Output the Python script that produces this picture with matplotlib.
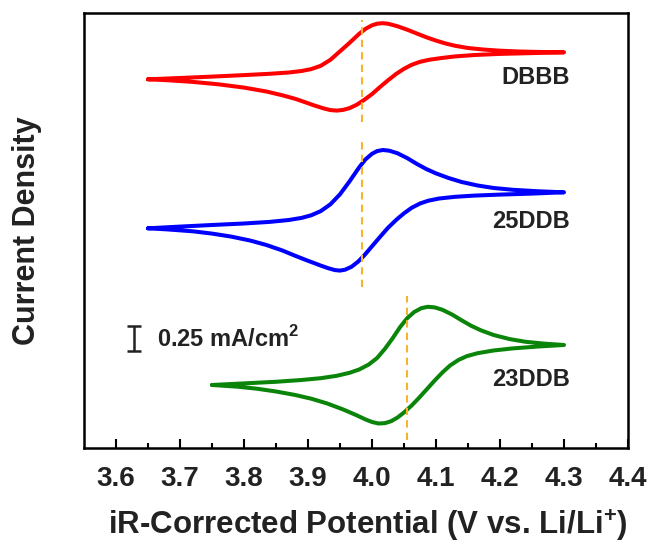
import numpy as np
import matplotlib
matplotlib.use("Agg")
import matplotlib.pyplot as plt

plt.rcParams['font.family'] = ['Liberation Sans', 'DejaVu Sans']
plt.rcParams['font.weight'] = 'bold'
plt.rcParams['mathtext.fontset'] = 'custom'
plt.rcParams['mathtext.rm'] = 'Liberation Sans:bold'
plt.rcParams['mathtext.bf'] = 'Liberation Sans:bold'

# CV curves: potential (V vs Li/Li+) and current density (mA/cm2), forward then reverse scan
dbbb_v = [3.65, 3.70, 3.75, 3.80, 3.84, 3.87, 3.89, 3.905, 3.92, 3.935, 3.95, 3.965, 3.98,
          3.99, 4.000, 4.008, 4.016, 4.025, 4.040, 4.055, 4.070, 4.085, 4.100, 4.115, 4.130,
          4.150, 4.175, 4.200, 4.230, 4.265, 4.30,
          4.25, 4.20, 4.16, 4.13, 4.11, 4.09, 4.075, 4.062, 4.050, 4.038, 4.025, 4.012, 4.000,
          3.988, 3.976, 3.965, 3.955, 3.945, 3.935, 3.925, 3.91, 3.895, 3.88, 3.86, 3.835,
          3.80, 3.76, 3.72, 3.68, 3.65]
dbbb_j = [0.0, 0.013, 0.027, 0.042, 0.055, 0.068, 0.083, 0.102, 0.135, 0.195, 0.280, 0.365,
          0.455, 0.505, 0.540, 0.556, 0.561, 0.556, 0.530, 0.496, 0.458, 0.420, 0.387, 0.358,
          0.335, 0.313, 0.297, 0.286, 0.278, 0.273, 0.270,
          0.262, 0.254, 0.243, 0.229, 0.214, 0.196, 0.175, 0.145, 0.105, 0.055, -0.010, -0.080,
          -0.148, -0.205, -0.255, -0.288, -0.306, -0.313, -0.308, -0.292, -0.262, -0.228,
          -0.195, -0.160, -0.122, -0.083, -0.050, -0.026, -0.009, 0.0]

ddb25_v = [3.65, 3.70, 3.75, 3.80, 3.84, 3.87, 3.89, 3.905, 3.92, 3.935, 3.95, 3.965, 3.98,
           3.99, 4.000, 4.008, 4.017, 4.027, 4.040, 4.055, 4.070, 4.085, 4.100, 4.120, 4.140,
           4.165, 4.19, 4.22, 4.26, 4.30,
           4.25, 4.20, 4.16, 4.13, 4.105, 4.088, 4.075, 4.062, 4.050, 4.038, 4.025, 4.012,
           4.000, 3.988, 3.978, 3.968, 3.958, 3.950, 3.942, 3.932, 3.92, 3.90, 3.88, 3.86,
           3.835, 3.81, 3.78, 3.75, 3.72, 3.68, 3.65]
ddb25_j = [0.0, 0.017, 0.033, 0.048, 0.064, 0.083, 0.104, 0.130, 0.172, 0.240, 0.340, 0.470,
           0.610, 0.690, 0.745, 0.772, 0.783, 0.776, 0.750, 0.702, 0.644, 0.592, 0.549, 0.502,
           0.463, 0.428, 0.403, 0.385, 0.370, 0.360,
           0.347, 0.337, 0.327, 0.315, 0.298, 0.276, 0.248, 0.205, 0.150, 0.085, 0.005, -0.090,
           -0.180, -0.270, -0.335, -0.385, -0.414, -0.423, -0.418, -0.400, -0.373, -0.325,
           -0.275, -0.222, -0.167, -0.123, -0.083, -0.053, -0.030, -0.011, 0.0]

ddb23_v = [3.75, 3.80, 3.85, 3.89, 3.92, 3.945, 3.965, 3.98, 3.995, 4.008, 4.020, 4.032,
           4.044, 4.055, 4.066, 4.077, 4.087, 4.098, 4.110, 4.125, 4.140, 4.155, 4.17, 4.19,
           4.215, 4.24, 4.27, 4.30,
           4.26, 4.22, 4.19, 4.165, 4.148, 4.135, 4.122, 4.110, 4.098, 4.086, 4.074, 4.062,
           4.050, 4.040, 4.030, 4.020, 4.010, 4.000, 3.99, 3.975, 3.955, 3.93, 3.905, 3.88,
           3.85, 3.82, 3.79, 3.75]
ddb23_j = [0.0, 0.016, 0.032, 0.050, 0.068, 0.092, 0.122, 0.155, 0.205, 0.270, 0.360, 0.465,
           0.580, 0.668, 0.730, 0.768, 0.782, 0.776, 0.752, 0.705, 0.647, 0.592, 0.547, 0.500,
           0.459, 0.432, 0.413, 0.400,
           0.385, 0.366, 0.345, 0.318, 0.288, 0.250, 0.195, 0.125, 0.045, -0.040, -0.125,
           -0.205, -0.275, -0.325, -0.362, -0.382, -0.385, -0.370, -0.345, -0.300, -0.245,
           -0.185, -0.137, -0.100, -0.065, -0.037, -0.017, 0.0]

names = ['DBBB', '25DDB', '23DDB']
colors = ['#FF0000', '#0000FF', '#0A850A']
offsets = [3.687, 2.197, 0.63]
half_wave = [3.985, 3.985, 4.055]
dash_span = [(3.26, 4.28), (1.61, 3.10), (0.08, 1.52)]
label_y = [3.70, 2.26, 0.68]

curves = [(dbbb_v, dbbb_j), (ddb25_v, ddb25_j), (ddb23_v, ddb23_j)]

fig = plt.figure(figsize=(6.52, 5.44), dpi=100)
ax = fig.add_axes([0.1288, 0.1765, 0.8344, 0.7996])

txt = '#222222'
for (v, j), name, c, off, e, span, ly in zip(curves, names, colors, offsets,
                                             half_wave, dash_span, label_y):
    ax.plot(v, np.array(j) + off, color=c, lw=2.9, solid_joinstyle='round',
            solid_capstyle='round', zorder=3)
    ax.plot([e, e], span, color='#F6B42E', lw=1.5, ls=(0, (3.5, 2.5)), zorder=4)
    ax.text(4.309, ly, name, ha='right', va='center', fontsize=17,
            fontweight='bold', color=txt)

# scale bar
ax.errorbar([3.628], [1.095], yerr=[0.125], color='#222222', lw=1.8,
            capsize=5, capthick=1.8)
ax.text(3.664, 1.095, r'0.25 mA/cm$^{\mathbf{2}}$', ha='left', va='center',
        fontsize=17, fontweight='bold', color=txt)

ax.set_xlim(3.55, 4.4)
ax.set_ylim(0, 4.35)
ax.set_xticks(np.arange(3.6, 4.41, 0.1))
ax.set_xticks(np.arange(3.65, 4.4, 0.1), minor=True)
ax.set_xticklabels(['%.1f' % t for t in np.arange(3.6, 4.41, 0.1)])
ax.set_yticks([])
ax.tick_params(axis='x', which='major', direction='in', length=6.5, width=1.5,
               pad=13, labelsize=20, labelcolor=txt)
ax.tick_params(axis='x', which='minor', direction='in', length=3.6, width=1.5)
for lab in ax.get_xticklabels():
    lab.set_fontweight('bold')
for s in ax.spines.values():
    s.set_linewidth(1.8)

ax.set_xlabel(r'iR-Corrected Potential (V vs. Li/Li$^{\mathbf{+}}$)', fontsize=22.5,
              fontweight='bold', color=txt)
ax.xaxis.set_label_coords(0.522, -0.137)
ax.set_ylabel('Current Density', fontsize=22, fontweight='bold', color=txt,
              labelpad=30)

fig.savefig('out.png', dpi=100)
